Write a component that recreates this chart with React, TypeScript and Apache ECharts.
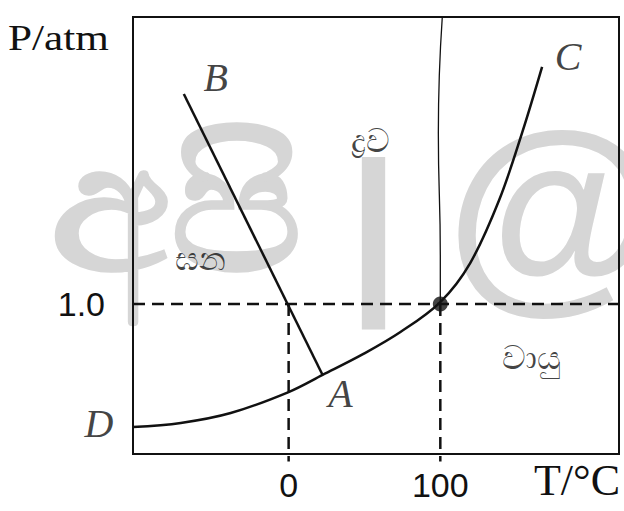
import React, { useEffect, useRef } from "react";
import * as echarts from "echarts";

// Axis ticks
const xTickValues = [0, 100];
const yTickValues = [1.0];

// Phase boundaries (schematic)
const vapourCurveDC = [
  [-102.6, 0.18], [-71.1, 0.207], [-38.2, 0.273], [0, 0.413], [22.4, 0.527],
  [49.3, 0.667], [73.7, 0.813], [100, 1.013], [119.7, 1.273],
  [138.8, 1.693], [153.9, 2.14], [167.1, 2.58],
];
const fusionLineAB = [[-69.1, 2.4], [22.4, 0.527]];
const thinLine = [[100, 1.0], [100, 1.32], [98.7, 2.14], [101.3, 2.913]];
const guideH = [[-102.6, 1.0], [217.8, 1.0]];
const guideAt0 = [[0, 1.0], [0, -0.05]];
const guideAt100 = [[100, 1.0], [100, -0.05]];
const boilingPoint = [[100, 1.0]];

// Point letters and phase names
const letterNames = ["B", "C", "D", "A"];
const letterPos = [[-48.0, 2.513], [184.2, 2.647], [-125.0, 0.2], [34.2, 0.4]];
const phaseNames = ["ඝන", "ද්‍රව", "වායු"];
const phasePos = [[-57.9, 1.3], [53.9, 2.087], [159.9, 0.64]];

const X_MIN = -102.6;
const X_MAX = 217.8;
const Y_MIN = 0;
const Y_MAX = 2.913;

export default function App() {
  const ref = useRef<HTMLDivElement>(null);
  useEffect(() => {
    if (!ref.current) return;
    const chart = echarts.init(ref.current, undefined, { renderer: "svg" });
    const ink = "#111";
    const serif = "Liberation Serif, Times New Roman, serif";
    const sans = "Liberation Sans, Arial, sans-serif";
    const lineSeries = (data: number[][], style: any = {}, extra: any = {}) => ({
      type: "line",
      data,
      symbol: "none",
      clip: false,
      silent: true,
      z: 3,
      ...extra,
      lineStyle: { color: ink, width: 2.5, ...style },
    });
    const dash = { type: [12, 7], width: 2.5 };
    chart.setOption({
      animation: false,
      backgroundColor: "#fff",
      grid: {
        left: 133, right: 5, top: 17, bottom: 57,
        show: true, borderColor: ink, borderWidth: 2, backgroundColor: "transparent",
      },
      graphic: [
        { type: "text", z: -1, left: 50, top: 112, scaleX: 1.1, style: { text: "අපි", fontSize: 178, fontWeight: "bold", fill: "#d6d6d6", fontFamily: "Noto Sans, sans-serif" } },
        { type: "text", z: -1, left: 348, top: 135, style: { text: "|", fontSize: 182, fontWeight: "bold", fill: "#d6d6d6", fontFamily: sans } },
        { type: "text", z: -1, left: 446, top: 100, style: { text: "@", fontSize: 218, fontWeight: "bold", fill: "#d6d6d6", fontFamily: sans } },
        { type: "text", z: 10, left: 8, top: 20, scaleX: 1.2, style: { text: "P/atm", fontSize: 36, fill: ink, fontFamily: serif } },
      ],
      xAxis: {
        type: "value", min: X_MIN, max: X_MAX,
        name: "T/°C", nameLocation: "end", nameGap: -42,
        nameTextStyle: { fontFamily: serif, fontSize: 44, color: ink, align: "center", verticalAlign: "top", padding: [4, 0, 0, 0] },
        axisLine: { show: false }, axisTick: { show: false }, splitLine: { show: false },
        axisLabel: { customValues: xTickValues, margin: 14, fontFamily: sans, fontSize: 34, color: ink },
      },
      yAxis: {
        type: "value", min: Y_MIN, max: Y_MAX,
        axisLine: { show: false }, axisTick: { show: false }, splitLine: { show: false },
        axisLabel: { customValues: yTickValues, margin: 28, formatter: (v: number) => v.toFixed(1), fontFamily: sans, fontSize: 34, color: ink },
      },
      series: [
        lineSeries(guideH, dash),
        lineSeries(guideAt0, dash),
        lineSeries(guideAt100, dash),
        lineSeries(thinLine, { width: 1.3 }, { smooth: true }),
        lineSeries(vapourCurveDC, {}, { smooth: 0.35 }),
        lineSeries(fusionLineAB),
        {
          type: "scatter", data: boilingPoint, symbol: "circle", symbolSize: 15,
          itemStyle: { color: ink }, silent: true, z: 4,
        },
        {
          type: "scatter", clip: false, silent: true, symbolSize: 0, z: 5,
          data: letterNames.map((n, i) => ({ name: n, value: letterPos[i] })),
          label: { show: true, position: "inside", formatter: "{b}", color: ink, fontFamily: serif, fontStyle: "italic", fontSize: 40 },
        },
        {
          type: "scatter", clip: false, silent: true, symbolSize: 0, z: 5,
          data: phaseNames.map((n, i) => ({ name: n, value: phasePos[i] })),
          label: { show: true, position: "inside", formatter: "{b}", color: ink, fontSize: 33 },
        },
      ],
    });
    return () => chart.dispose();
  }, []);
  return <div ref={ref} style={{ position: "fixed", left: 0, top: 0, width: 624, height: 511 }} />;
}
